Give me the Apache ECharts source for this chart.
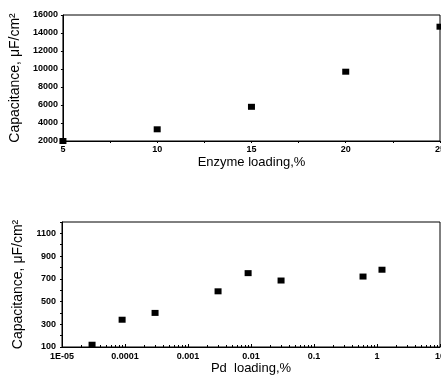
<!DOCTYPE html>
<html>
<head>
<meta charset="utf-8">
<script src="https://cdn.jsdelivr.net/npm/echarts@6/dist/echarts.min.js"></script>
<style>
  html, body { margin: 0; padding: 0; background: #fff; overflow: hidden; }
  #chart { width: 480px; height: 384px; }
</style>
</head>
<body>
<div id="chart"></div>
<script>
// top panel: capacitance vs enzyme loading
const enzymeLoading = [5, 10, 15, 20, 25]
const enzymeCapacitance = [2000, 3300, 5800, 9700, 14700]

// bottom panel: capacitance vs Pd loading (log x)
const pdLoading = [0.00003, 0.00009, 0.0003, 0.003, 0.009, 0.03, 0.6, 1.2]
const pdCapacitance = [120, 340, 400, 590, 750, 685, 720, 780]

const pdTickLabels = {
  "0.00001": "1E-05",
  "0.0001": "0.0001",
  "0.001": "0.001",
  "0.01": "0.01",
  "0.1": "0.1",
  "1": "1",
  "10": "10",
}

const FONT = "'Liberation Sans', Arial, sans-serif"
const tickLabel = { fontFamily: FONT, fontSize: 9, fontWeight: "bold", color: "#000" }
const axisName = { fontFamily: FONT, fontSize: 13, color: "#000" }
const yName = { fontFamily: FONT, fontSize: 14, color: "#000" }
const blackLine = { lineStyle: { color: "#000", width: 1 } }

const chart = echarts.init(document.getElementById("chart"), null, { renderer: "canvas" })

chart.setOption({
  animation: false,
  backgroundColor: "#fff",
  grid: [
    { left: 62, top: 15, width: 378, height: 126, show: true, borderColor: "#000", borderWidth: 1, backgroundColor: "transparent" },
    { left: 62, top: 222, width: 378, height: 125, show: true, borderColor: "#000", borderWidth: 1, backgroundColor: "transparent" },
  ],
  xAxis: [
    {
      gridIndex: 0,
      type: "value",
      min: 5,
      max: 25,
      interval: 2.5,
      name: "Enzyme loading,%",
      nameLocation: "middle",
      nameGap: 15,
      nameTextStyle: axisName,
      axisLine: blackLine,
      axisTick: { show: true, length: 2, lineStyle: { color: "#000" } },
      axisLabel: {
        ...tickLabel,
        margin: 4,
        formatter: (v) => (v % 5 === 0 ? String(v) : ""),
      },
      splitLine: { show: false },
    },
    {
      gridIndex: 1,
      type: "log",
      logBase: 10,
      min: 0.00001,
      max: 10,
      name: "Pd  loading,%",
      nameLocation: "middle",
      nameGap: 13,
      nameTextStyle: axisName,
      axisLine: blackLine,
      axisTick: { show: true, inside: true, length: 3, lineStyle: { color: "#000" } },
      minorTick: { show: true, splitNumber: 9, length: 2, lineStyle: { color: "#000" } },
      axisLabel: {
        ...tickLabel,
        margin: 5,
        formatter: (v) => {
          const key = String(Number(v.toPrecision(3)))
          return pdTickLabels[key] !== undefined ? pdTickLabels[key] : (v < 0.0001 ? "1E-05" : String(v))
        },
      },
      splitLine: { show: false },
      minorSplitLine: { show: false },
    },
  ],
  yAxis: [
    {
      gridIndex: 0,
      type: "value",
      min: 2000,
      max: 16000,
      interval: 2000,
      name: "Capacitance, μF/cm²",
      nameLocation: "middle",
      nameRotate: 90,
      nameGap: 38,
      nameTextStyle: yName,
      axisLine: { show: true, ...blackLine },
      axisTick: { show: true, length: 2, lineStyle: { color: "#000" } },
      axisLabel: { ...tickLabel, margin: 5, formatter: (v) => String(v) },
      splitLine: { show: false },
    },
    {
      gridIndex: 1,
      type: "value",
      min: 100,
      max: 1200,
      interval: 100,
      name: "Capacitance, μF/cm²",
      nameLocation: "middle",
      nameRotate: 90,
      nameGap: 33,
      nameTextStyle: yName,
      axisLine: { show: true, ...blackLine },
      axisTick: { show: true, length: 2, lineStyle: { color: "#000" } },
      axisLabel: {
        ...tickLabel,
        margin: 6,
        formatter: (v) => ((v - 100) % 200 === 0 && v < 1200 ? String(v) : ""),
      },
      splitLine: { show: false },
    },
  ],
  series: [
    {
      type: "scatter",
      xAxisIndex: 0,
      yAxisIndex: 0,
      symbol: "rect",
      symbolSize: [7, 6],
      itemStyle: { color: "#000", opacity: 1 },
      clip: false,
      data: enzymeLoading.map((x, i) => [x, enzymeCapacitance[i]]),
    },
    {
      type: "scatter",
      xAxisIndex: 1,
      yAxisIndex: 1,
      symbol: "rect",
      symbolSize: [7, 6],
      itemStyle: { color: "#000", opacity: 1 },
      clip: false,
      data: pdLoading.map((x, i) => [x, pdCapacitance[i]]),
    },
  ],
})
</script>
</body>
</html>
